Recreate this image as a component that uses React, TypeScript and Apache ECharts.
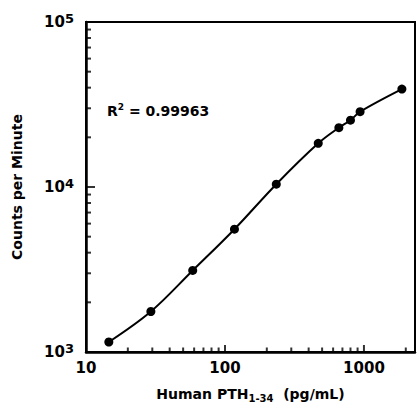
import React, { useEffect, useRef } from "react";
import * as echarts from "echarts";

// Concentrations (pg/mL) and measured counts per minute
const concentrations = [14.6, 29.3, 58.6, 117, 234, 469, 660, 800, 938, 1875];
const counts = [1150, 1760, 3120, 5550, 10400, 18400, 22900, 25400, 28600, 39200];

// Axis ranges and tick positions
const X_MIN = 10;
const X_MAX = 2330;
const Y_MIN = 1000;
const Y_MAX = 100000;
const xMinorTicks = [20, 30, 40, 50, 60, 70, 80, 90, 200, 300, 400, 500, 600, 700, 800, 900, 2000];
const xMajorTicks = [100, 1000];
const yMinorTicks = [2000, 3000, 4000, 5000, 6000, 7000, 8000, 9000, 20000, 30000, 40000, 50000, 60000, 70000, 80000, 90000];
const yMajorTicks = [1000, 10000];

const rSquaredText = "0.99963";
const xAxisTitle = ["Human PTH", "1-34", "  (pg/mL)"];
const yAxisTitle = "Counts per Minute";

const FONT = "DejaVu Sans";

function isPow10(v: number) {
  const l = Math.log10(v);
  return Math.abs(l - Math.round(l)) < 1e-6;
}

export default function App() {
  const ref = useRef<HTMLDivElement>(null);

  useEffect(() => {
    if (!ref.current) return;
    const chart = echarts.init(ref.current, null, { renderer: "svg" });
    chart.setOption({
      animation: false,
      grid: {
        left: 86,
        right: 4,
        top: 22,
        bottom: 50,
        show: true,
        borderColor: "#000",
        borderWidth: 2,
        backgroundColor: "transparent",
      },
      xAxis: {
        type: "log",
        min: X_MIN,
        max: X_MAX,
        axisLine: { show: true, lineStyle: { color: "#000", width: 2.5 } },
        axisTick: { show: false },
        splitLine: { show: false },
        axisLabel: {
          margin: 8,
          color: "#000",
          fontFamily: FONT,
          fontWeight: "bold",
          fontSize: 15,
          showMaxLabel: false,
          formatter: (v: number) => (isPow10(v) ? String(Math.round(v)) : ""),
        },
        name: `{a|${xAxisTitle[0]}}{s|${xAxisTitle[1]}}{a|${xAxisTitle[2]}}`,
        nameLocation: "middle",
        nameGap: 33,
        nameTextStyle: {
          rich: {
            a: { fontFamily: FONT, fontWeight: "bold", fontSize: 14, color: "#000", lineHeight: 18 },
            s: {
              fontFamily: FONT,
              fontWeight: "bold",
              fontSize: 10,
              color: "#000",
              verticalAlign: "bottom",
              lineHeight: 12,
            },
          },
        },
      },
      yAxis: {
        type: "log",
        min: Y_MIN,
        max: Y_MAX,
        axisLine: { show: true, lineStyle: { color: "#000", width: 2.5 } },
        axisTick: { show: false },
        splitLine: { show: false },
        axisLabel: {
          margin: 12,
          color: "#000",
          formatter: (v: number) => {
            if (!isPow10(v)) return "";
            const e = Math.round(Math.log10(v));
            return `{b|10}{s|${e}}`;
          },
          rich: {
            b: { fontFamily: FONT, fontWeight: "bold", fontSize: 15, color: "#000", lineHeight: 20 },
            s: {
              fontFamily: FONT,
              fontWeight: "bold",
              fontSize: 13,
              color: "#000",
              verticalAlign: "top",
              lineHeight: 14,
            },
          },
        },
        name: yAxisTitle,
        nameLocation: "middle",
        nameGap: 62,
        nameTextStyle: { fontFamily: FONT, fontWeight: "bold", fontSize: 14, color: "#000" },
      },
      graphic: [
        {
          type: "text",
          left: 107,
          top: 102,
          style: {
            text: `{a|R}{s|2}{a| = ${rSquaredText}}`,
            rich: {
              a: { fontFamily: FONT, fontWeight: "bold", fontSize: 14, fill: "#000", lineHeight: 17 },
              s: {
                fontFamily: FONT,
                fontWeight: "bold",
                fontSize: 9,
                fill: "#000",
                verticalAlign: "top",
                lineHeight: 10,
              },
            },
          },
        },
      ],
      series: [
        {
          type: "line",
          data: concentrations.map((c, i) => [c, counts[i]]),
          smooth: 0.35,
          symbol: "circle",
          symbolSize: 9,
          itemStyle: { color: "#000" },
          lineStyle: { color: "#000", width: 2 },
        },
        {
          type: "scatter",
          clip: false,
          data: xMinorTicks.map((v) => [v, Y_MIN]),
          symbol: "rect",
          symbolSize: [2, 5],
          symbolOffset: [0, -2],
          itemStyle: { color: "#000" },
        },
        {
          type: "scatter",
          clip: false,
          data: xMajorTicks.map((v) => [v, Y_MIN]),
          symbol: "rect",
          symbolSize: [2, 8],
          symbolOffset: [0, -3],
          itemStyle: { color: "#000" },
        },
        {
          type: "scatter",
          clip: false,
          data: yMinorTicks.map((v) => [X_MIN, v]),
          symbol: "rect",
          symbolSize: [6, 2],
          symbolOffset: [2, 0],
          itemStyle: { color: "#000" },
        },
        {
          type: "scatter",
          clip: false,
          data: yMajorTicks.map((v) => [X_MIN, v]),
          symbol: "rect",
          symbolSize: [10, 2],
          symbolOffset: [4, 0],
          itemStyle: { color: "#000" },
        },
      ],
    });
    return () => chart.dispose();
  }, []);

  return (
    <div style={{ position: "fixed", left: 0, top: 0, width: 419, height: 408, background: "#fff" }}>
      <div ref={ref} style={{ width: 419, height: 408 }} />
    </div>
  );
}
